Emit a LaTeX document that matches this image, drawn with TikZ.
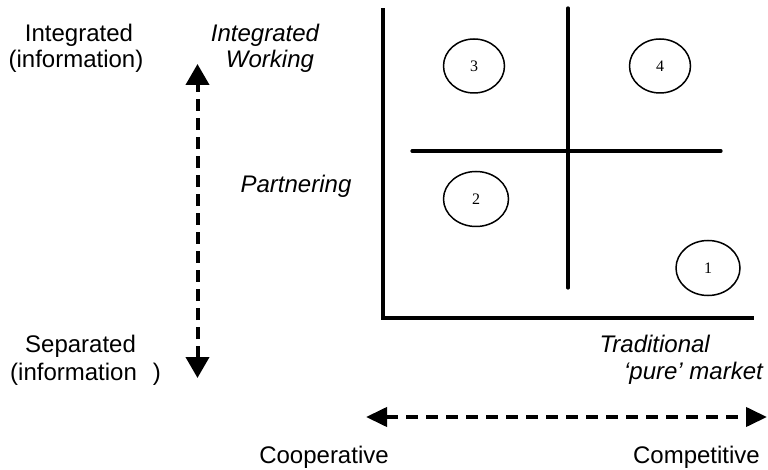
\documentclass[tikz,border=0pt]{standalone}
\usepackage{fontspec}
\setmainfont{Liberation Sans}
\newfontfamily\numfont{Liberation Serif}
\usetikzlibrary{arrows.meta,shapes.geometric}
\tikzset{
  lbl/.style={inner sep=0pt, font=\fontsize{24}{28}\selectfont},
  ilbl/.style={lbl, font=\fontsize{24}{28}\selectfont\itshape},
  axis/.style={line width=4pt, line cap=rect},
  divider/.style={line width=3.2pt, line cap=round},
  quad/.style={ellipse, draw, line width=1.5pt, inner sep=0pt, font=\fontsize{16}{18}\selectfont\numfont},
  dasharrow/.style={line width=4pt, dash pattern=on 12pt off 7pt,
     {Triangle[width=23pt,length=21pt]}-{Triangle[width=23pt,length=21pt]}},
  dasharrowh/.style={line width=4pt, dash pattern=on 12pt off 8pt,
     {Triangle[width=19pt,length=21pt]}-{Triangle[width=19pt,length=21pt]}}
}
\begin{document}
\begin{tikzpicture}[x=1pt,y=-1pt]
\useasboundingbox (0,0) rectangle (768,470);
% axes
\coordinate (origin) at (383,318);
\coordinate (ytop) at (383,10);
\coordinate (xend) at (752,318);
\draw[axis] (ytop) -- (origin) -- (xend);
% dividers
\coordinate (vtop) at (568,8);
\coordinate (vbot) at (568,288);
\coordinate (hl) at (412,151);
\coordinate (hr) at (721,151);
\draw[divider] (vtop) -- (vbot);
\draw[divider] (hl) -- (hr);
% ellipses
\node[quad, minimum width=61pt, minimum height=54pt] (q3) at (474,66) {3};
\node[quad, minimum width=61pt, minimum height=54pt] (q4) at (660,66) {4};
\node[quad, minimum width=65pt, minimum height=55pt] (q2) at (476,199) {2};
\node[quad, minimum width=64pt, minimum height=55pt] (q1) at (708,268) {1};
% left labels
\node[lbl, anchor=base] (intA) at (79,42) {Integrated};
\node[lbl, anchor=base] (intB) at (76,68) {(information)};
\node[lbl, anchor=base west] (sepA) at (25,352) {Separated};
\node[lbl, anchor=base west] (sepB) at (10,380) {(information\hspace{16pt})};
% italic labels
\node[ilbl, anchor=base] (iwA) at (265,42) {Integrated};
\node[ilbl, anchor=base] (iwB) at (270,68) {Working};
\node[ilbl, anchor=base] (part) at (296,193) {Partnering};
\node[ilbl, anchor=base east] (tradA) at (710,352) {Traditional};
\node[ilbl, anchor=base east] (tradB) at (763,379) {‘pure’ market};
% bottom labels
\node[lbl, anchor=base] (coop) at (324,463) {Cooperative};
\node[lbl, anchor=base east] (comp) at (760,463) {Competitive};
% arrows
\coordinate (vaT) at (197.5,64);
\coordinate (vaB) at (197.5,378);
\draw[dasharrow] (vaB) -- (vaT);
\coordinate (haL) at (366,417);
\coordinate (haR) at (767,417);
\draw[dasharrowh] (haL) -- (haR);
\end{tikzpicture}
\end{document}
